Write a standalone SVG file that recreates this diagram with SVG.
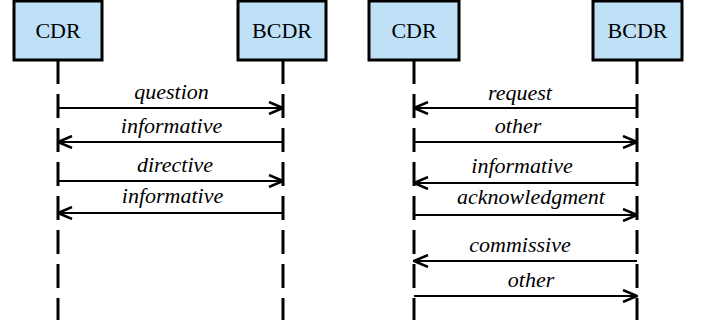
<svg xmlns="http://www.w3.org/2000/svg" width="701" height="320" viewBox="0 0 701 320">
<style>
.box{fill:#bfe1f8;stroke:#000;stroke-width:3}
.name{font-size:22px;fill:#000;text-anchor:middle}
.life{stroke:#000;stroke-width:3;stroke-dasharray:24 10;fill:none}
.msg{stroke:#000;stroke-width:2.2;fill:none}
.lbl{font-style:italic;font-size:22px;fill:#000;text-anchor:middle}
</style>
<defs>
<marker id="ah" viewBox="0 0 16 14" refX="15" refY="7" markerWidth="16" markerHeight="14" markerUnits="userSpaceOnUse" orient="auto">
<path d="M1,1 L15,7 L1,13" fill="none" stroke="#000" stroke-width="2.5"/>
</marker>
</defs>
<rect x="0" y="0" width="701" height="320" fill="#fff"/>
<g font-family="Liberation Serif, Times New Roman, Tinos, Noto Serif, DejaVu Serif, serif">
<g id="cdr1"><rect class="box" x="14" y="1" width="88" height="59"/><text class="name" x="58" y="38">CDR</text></g>
<g id="bcdr1"><rect class="box" x="238" y="1" width="88" height="59"/><text class="name" x="282" y="38">BCDR</text></g>
<g id="cdr2"><rect class="box" x="369" y="1" width="90" height="59"/><text class="name" x="414" y="38">CDR</text></g>
<g id="bcdr2"><rect class="box" x="593" y="1" width="89" height="59"/><text class="name" x="637.5" y="38">BCDR</text></g>
<g id="lifelines">
<line class="life" x1="58" y1="60" x2="58" y2="320"/>
<line class="life" x1="283" y1="60" x2="283" y2="320"/>
<line class="life" x1="414" y1="60" x2="414" y2="320"/>
<line class="life" x1="637" y1="60" x2="637" y2="320"/>
</g>
<g id="connectors">
<line class="msg" x1="58" y1="108" x2="283" y2="108" marker-end="url(#ah)"/>
<line class="msg" x1="283" y1="142" x2="58" y2="142" marker-end="url(#ah)"/>
<line class="msg" x1="58" y1="181" x2="283" y2="181" marker-end="url(#ah)"/>
<line class="msg" x1="283" y1="213" x2="58" y2="213" marker-end="url(#ah)"/>
<line class="msg" x1="637" y1="108" x2="414" y2="108" marker-end="url(#ah)"/>
<line class="msg" x1="414" y1="142" x2="637" y2="142" marker-end="url(#ah)"/>
<line class="msg" x1="637" y1="183" x2="414" y2="183" marker-end="url(#ah)"/>
<line class="msg" x1="414" y1="215" x2="637" y2="215" marker-end="url(#ah)"/>
<line class="msg" x1="637" y1="261" x2="414" y2="261" marker-end="url(#ah)"/>
<line class="msg" x1="414" y1="296" x2="637" y2="296" marker-end="url(#ah)"/>
</g>
<g id="labels">
<text class="lbl" x="171.5" y="99">question</text>
<text class="lbl" x="171.5" y="133">informative</text>
<text class="lbl" x="175" y="172">directive</text>
<text class="lbl" x="172.5" y="203">informative</text>
<text class="lbl" x="520" y="100">request</text>
<text class="lbl" x="518" y="133">other</text>
<text class="lbl" x="522" y="173">informative</text>
<text class="lbl" x="531" y="204">acknowledgment</text>
<text class="lbl" x="520" y="252">commissive</text>
<text class="lbl" x="531" y="287">other</text>
</g>
</g>
</svg>
